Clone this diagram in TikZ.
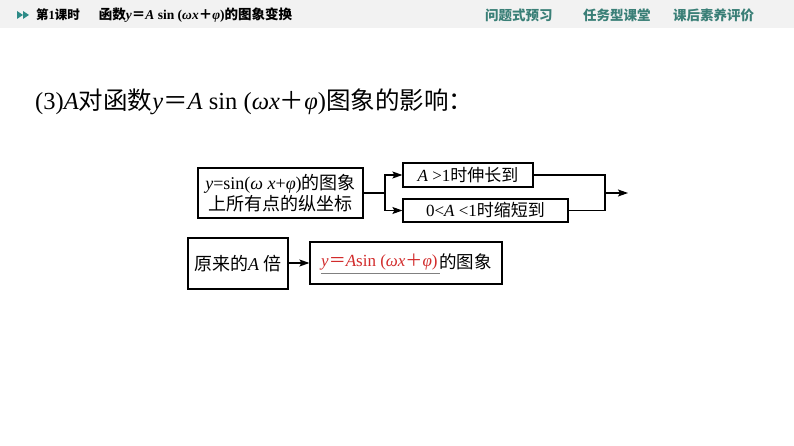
\documentclass[tikz,border=0pt]{standalone}
\usepackage{fontspec}
\setmainfont{Liberation Serif}
\newfontfamily\cjk{Noto Sans CJK SC}
\usetikzlibrary{arrows.meta}
\definecolor{hdr}{HTML}{F2F2F2}
\definecolor{icon}{HTML}{2E8B87}
\definecolor{tabc}{HTML}{3A7F77}
\definecolor{redt}{HTML}{D22B2B}
\newcommand\zh[1]{{\cjk #1}}
\begin{document}
\begin{tikzpicture}[x=1pt,y=-1pt,
  boxn/.style={draw=black, line width=1.2pt, inner sep=0pt, align=center, font=\fontsize{17}{20}\selectfont},
  conn/.style={line width=1.1pt},
  arr/.style={line width=1.1pt, -{Stealth[length=10pt,width=7pt,inset=2pt]}},
  tabt/.style={anchor=west, text=tabc, font=\fontsize{13.5}{16}\selectfont\cjk\bfseries, inner sep=0pt}]
\useasboundingbox (0,0) rectangle (794,446);
\fill[white] (0,0) rectangle (794,446);
% header
\fill[hdr] (0,0) rectangle (794,28);
\fill[icon] (17,11) -- (23,15) -- (17,19) -- cycle;
\fill[icon] (23,11) -- (29,15) -- (23,19) -- cycle;
\node[anchor=west, inner sep=0pt, font=\fontsize{12.5}{15}\selectfont\bfseries] (htitle) at (36,15)
  {\zh{第}1\zh{课时}\hspace{19pt}{\fontsize{13.5}{15}\selectfont\zh{函数}\textit{y}\zh{＝}\textit{A} sin (\textit{ωx}\zh{＋}\textit{φ})\zh{的图象变换}}};
\node[tabt] (tab1) at (485,15) {问题式预习};
\node[tabt] (tab2) at (583,15) {任务型课堂};
\node[tabt] (tab3) at (673,15) {课后素养评价};
% heading
\node[anchor=west, inner sep=0pt, font=\fontsize{24.5}{28}\selectfont] (head) at (35,102)
  {(3)\textit{A}\zh{对函数}\textit{y}\zh{＝}\textit{A} sin (\textit{ωx}\zh{＋}\textit{φ})\zh{图象的影响：}};
% boxes
\node[boxn, minimum width=165pt, minimum height=50pt, font=\fontsize{18}{20.5}\selectfont] (b1) at (280.5,193)
  {\textit{y}=sin(\textit{ω x}+\textit{φ})\zh{的图象}\\\zh{上所有点的纵坐标}};
\node[boxn, minimum width=130pt, minimum height=24pt] (b2) at (468,175) {\textit{A} >1\zh{时伸长到}};
\node[boxn, minimum width=165pt, minimum height=23pt] (b3) at (485.5,210.5) {0<\textit{A} <1\zh{时缩短到}};
\node[boxn, minimum width=100pt, minimum height=51pt, font=\fontsize{18}{20}\selectfont] (b4) at (238,263.5) {\zh{原来的}\textit{A} \zh{倍}};
\node[boxn, minimum width=192pt, minimum height=42pt] (b5) at (406,263) {};
\node[anchor=west, inner sep=0pt, text=redt, font=\fontsize{17}{20}\selectfont] (rt) at (321,262)
  {\textit{y}\zh{＝}\textit{A}sin (\textit{ωx}\zh{＋}\textit{φ})};
\node[anchor=west, inner sep=0pt, font=\fontsize{17.5}{20}\selectfont] (rt2) at (439,262) {\zh{的图象}};
\draw[gray, line width=0.9pt] ([yshift=-3pt]rt.south west) -- ([yshift=-3pt,xshift=2pt]rt.south east);
% connectors
\coordinate (j1) at (385,193);
\coordinate (j2) at (605,193);
\coordinate (e) at (628,193);
\draw[conn] (b1.east |- j1) -- (j1);
\draw[arr] (j1) |- (b2.west);
\draw[arr] (j1) |- (b3.west);
\draw[conn] (b2.east) -| (j2);
\draw[conn] (b3.east) -| (j2);
\draw[arr] (j2) -- (e);
\draw[arr] (b4.east |- b5.west) -- (b5.west);
\end{tikzpicture}
\end{document}
